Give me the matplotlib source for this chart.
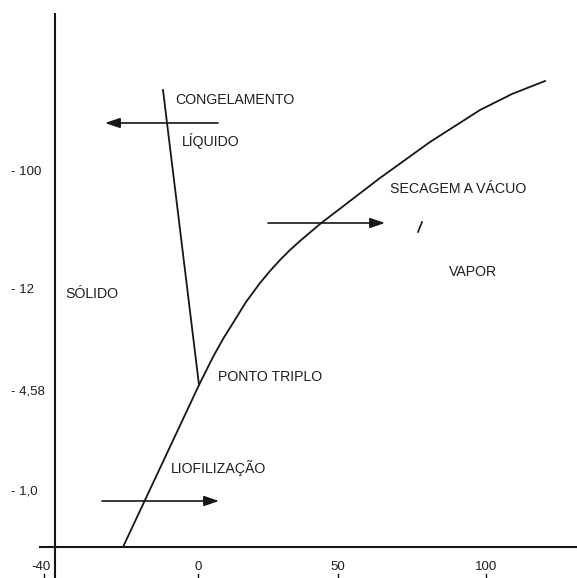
import matplotlib
matplotlib.use("Agg")
import matplotlib.pyplot as plt

# schematic diagram units (not to scale), x to the right, y upwards
curve_x = [123, 199, 213, 223, 233, 246, 260, 270, 280, 290, 300, 320,
           350, 380, 430, 480, 512, 545]
curve_y = [31, 193, 221, 239, 255, 276, 295, 307, 318, 328, 337, 354,
           377, 400, 436, 468, 484, 497]

fusion_x = [163, 199]
fusion_y = [488, 193]

xtick_pos = [44, 198, 338, 486]
xtick_labels = ["-40", "0", "50", "100"]
ytick_pos = [406, 288, 186, 86]
ytick_labels = ["- 100", "- 12", "- 4,58", "- 1,0"]

labels = ["CONGELAMENTO", "LÍQUIDO", "SÓLIDO", "SECAGEM A VÁCUO",
          "VAPOR", "PONTO TRIPLO", "LIOFILIZAÇÃO"]
label_x = [175, 182, 65, 390, 449, 218, 171]
label_y = [478, 437, 284, 389, 306, 201, 110]

# arrows: (start, end)
arrow_start = [(218, 455), (268, 355), (102, 77)]
arrow_end = [(105, 455), (385, 355), (219, 77)]

# small stray mark from the original drawing
mark_x = [418, 422]
mark_y = [346, 356]

INK = "#161616"
plt.rcParams["font.family"] = ["Liberation Sans", "DejaVu Sans"]

fig = plt.figure(figsize=(5.77, 5.78), dpi=100)
ax = fig.add_axes([0, 0, 1, 1])
ax.set_xlim(0, 577)
ax.set_ylim(0, 578)
ax.axis("off")

# axes of the diagram
ax.plot([39, 577], [31, 31], color=INK, lw=1.5, solid_capstyle="butt")
ax.plot([55, 55], [0, 565], color=INK, lw=1.5, solid_capstyle="butt")

# phase boundaries
ax.plot(curve_x, curve_y, color=INK, lw=1.3, solid_joinstyle="round")
ax.plot(fusion_x, fusion_y, color=INK, lw=1.3)
ax.plot(mark_x, mark_y, color=INK, lw=1.2)

for (x0, y0), (x1, y1) in zip(arrow_start, arrow_end):
    ax.annotate("", xy=(x1, y1), xytext=(x0, y0),
                arrowprops=dict(arrowstyle="-|>,head_length=0.5,head_width=0.17",
                                mutation_scale=18, color=INK, lw=1.2,
                                shrinkA=0, shrinkB=0))

for txt, x, y in zip(labels, label_x, label_y):
    ax.text(x, y, txt, ha="left", va="center", fontsize=10.2, color="#1e1e1e")

for pos, lab in zip(xtick_pos, xtick_labels):
    ax.text(pos - 3 if lab == "-40" else pos, 11, lab, ha="center", va="center",
            fontsize=9.5, color="#1e1e1e")
    ax.plot([pos, pos], [0, 4], color=INK, lw=1.0)

for pos, lab in zip(ytick_pos, ytick_labels):
    ax.text(11, pos, lab, ha="left", va="center", fontsize=9.5, color="#1e1e1e")

fig.savefig("out.png", dpi=100, facecolor="white")
